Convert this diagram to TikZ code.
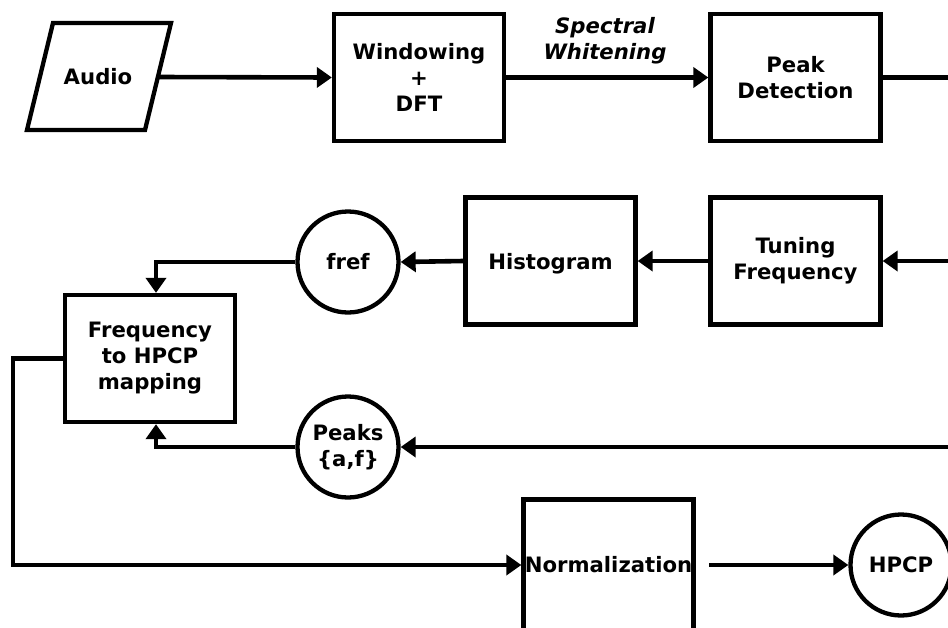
\documentclass[tikz,border=0pt]{standalone}
\usepackage{fontspec}
\setmainfont{DejaVu Sans}
\usetikzlibrary{arrows.meta}
\begin{document}
\begin{tikzpicture}[x=1pt,y=-1pt,
  every node/.style={font=\fontsize{21.2}{26}\selectfont\bfseries, align=center, inner sep=0pt},
  box/.style={draw, line width=4.3pt, minimum width=170pt, minimum height=127pt},
  circ/.style={draw, circle, line width=4.3pt, minimum size=101pt},
  conn/.style={line width=4.6pt},
  arr/.style={conn, -{Triangle[length=15pt,width=20pt]}}]
\useasboundingbox (0,0) rectangle (948,627);
% audio parallelogram
\draw[line width=4.3pt, line join=miter] (53,23) -- (171,23) -- (145,130) -- (27,130) -- cycle;
\node (audio) at (98,77) {Audio};
\coordinate (audioR) at (158,77);
\node[box] (win) at (419,77.5) {Windowing\\+\\DFT};
\node[box] (peak) at (795.5,77.5) {Peak\\Detection};
\node[box] (tun) at (795.5,261) {Tuning\\Frequency};
\node[box, text depth=0pt] (hist) at (550.5,261) {Histogram};
\node[circ] (fref) at (348,262) {fref};
\node[box] (freq) at (150,358.5) {Frequency\\to HPCP\\mapping};
\node[circ] (peaks) at (348,447) {Peaks\\\{a,f\}};
\node[box, minimum height=131pt] (norm) at (608.5,565) {Normalization};
\node[circ] (hpcp) at (901,565) {HPCP};
\node[font=\fontsize{21.2}{26}\selectfont\bfseries\itshape] (sw) at (605,41) {Spectral\\Whitening};
\coordinate (outA) at (950,77.5);
\coordinate (inB) at (950,261);
\coordinate (inC) at (950,447);
\coordinate (normOut) at (709,565);
\coordinate (leftX) at (13,358.5);
% connectors
\draw[arr] (audioR) -- (win.west);
\draw[arr] (win.east) -- (peak.west);
\draw[conn] (peak.east) -- (outA);
\draw[arr] (inB) -- (tun.east);
\draw[arr] (tun.west) -- (hist.east);
\draw[arr] (hist.west) -- (fref.east);
\draw[arr] (fref.west) -| ([xshift=6pt]freq.north);
\draw[arr] (inC) -- (peaks.east);
\draw[arr] (peaks.west) -| ([xshift=6pt]freq.south);
\draw[arr] (freq.west) -- (leftX) |- (norm.west);
\draw[arr] (normOut) -- (hpcp.west);
\end{tikzpicture}
\end{document}
